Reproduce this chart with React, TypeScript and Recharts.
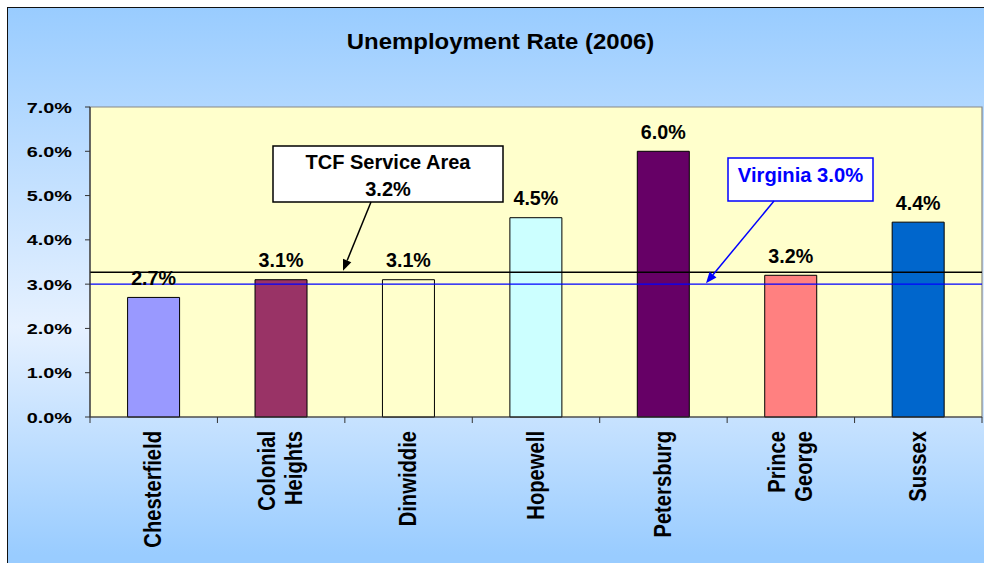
import React from 'react';
import {
  BarChart,
  Bar,
  Cell,
  XAxis,
  YAxis,
  CartesianGrid,
  ReferenceLine,
  ReferenceArea,
  LabelList,
} from 'recharts';

const categories = [
  'Chesterfield',
  'Colonial Heights',
  'Dinwiddie',
  'Hopewell',
  'Petersburg',
  'Prince George',
  'Sussex',
];
const rates = [2.7, 3.1, 3.1, 4.5, 6.0, 3.2, 4.4];
const barColors = ['#9999FF', '#993366', '#FFFFCC', '#CCFFFF', '#660066', '#FF8080', '#0066CC'];
const yTicks = [0, 1, 2, 3, 4, 5, 6, 7];
const tcfRate = 3.27;
const virginiaRate = 3.0;

const data = categories.map((name, i) => ({ name, rate: rates[i] }));

const FONT = '"Liberation Sans", Arial, Helvetica, sans-serif';

// layout
const W = 984;
const H = 563;
const Y_AXIS_W = 90;
const MARGIN = { top: 107, right: 2, bottom: 0, left: 0 };
const X_AXIS_H = 146;
const PLOT_BOTTOM = H - X_AXIS_H;
const BAND = (W - Y_AXIS_W - MARGIN.right) / categories.length;

const YTick = (props: any) => {
  const { x, y, payload } = props;
  return (
    <text
      transform={`translate(${x - 11},${y + 5.5}) scale(1.28,1)`}
      textAnchor="end"
      fontFamily={FONT}
      fontWeight="bold"
      fontSize={15.5}
      fill="#000"
    >
      {Number(payload.value).toFixed(1)}%
    </text>
  );
};

// category label + tick marks on the band edges (excel style)
const CategoryTick = (props: any) => {
  const { x, payload, index } = props;
  const lines = String(payload.value).split(' ');
  const gap = 27;
  const edges = [x - BAND / 2];
  if (index === categories.length - 1) edges.push(x + BAND / 2);
  return (
    <g>
      {edges.map((ex, i) => (
        <line key={'t' + i} x1={ex} x2={ex} y1={PLOT_BOTTOM} y2={PLOT_BOTTOM + 6} stroke="#333" />
      ))}
      {lines.map((line, i) => {
        const cx = x - 1 + (i - (lines.length - 1) / 2) * gap;
        return (
          <text
            key={i}
            transform={`translate(${cx + 8.7},${PLOT_BOTTOM + 14}) scale(1.2,1) rotate(-90)`}
            textAnchor="end"
            fontFamily={FONT}
            fontWeight="bold"
            fontSize={20.2}
            fill="#000"
          >
            {line}
          </text>
        );
      })}
    </g>
  );
};

const Arrow = ({ x1, y1, x2, y2, color }: any) => {
  const ang = Math.atan2(y2 - y1, x2 - x1);
  const len = 11;
  const half = 4.5;
  const bx = x2 - len * Math.cos(ang);
  const by = y2 - len * Math.sin(ang);
  const px = -Math.sin(ang) * half;
  const py = Math.cos(ang) * half;
  return (
    <g>
      <line x1={x1} y1={y1} x2={bx} y2={by} stroke={color} strokeWidth={1.5} />
      <polygon points={`${x2},${y2} ${bx + px},${by + py} ${bx - px},${by - py}`} fill={color} />
    </g>
  );
};

// callout boxes pointing at the reference lines
const TcfCallout = (props: any) => {
  const lineY = props.viewBox ? props.viewBox.y : 272;
  return (
    <g>
      <rect x={273} y={146} width={230} height={56} fill="#fff" stroke="#000" strokeWidth={1.5} />
      <text x={388} y={169} textAnchor="middle" fontFamily={FONT} fontWeight="bold" fontSize={20} fill="#000">
        TCF Service Area
      </text>
      <text x={388} y={196} textAnchor="middle" fontFamily={FONT} fontWeight="bold" fontSize={20} fill="#000">
        3.2%
      </text>
      <Arrow x1={371} y1={202} x2={343} y2={lineY - 1.5} color="#000" />
    </g>
  );
};

const VirginiaCallout = (props: any) => {
  const lineY = props.viewBox ? props.viewBox.y : 283;
  return (
    <g>
      <rect x={728} y={158} width={145} height={43} fill="#fff" stroke="#0000FF" strokeWidth={1.5} />
      <text x={800.5} y={181.5} textAnchor="middle" fontFamily={FONT} fontWeight="bold" fontSize={20.2} fill="#0000FF">
        Virginia 3.0%
      </text>
      <Arrow x1={774} y1={201} x2={706} y2={lineY - 1} color="#0000FF" />
    </g>
  );
};

export default function App() {
  return (
    <div style={{ position: 'absolute', left: 0, top: 0, width: W, height: H, overflow: 'hidden' }}>
      <div
        style={{
          position: 'absolute',
          left: 7,
          top: 7,
          width: 990,
          height: 570,
          border: '1.5px solid #111',
          background: 'linear-gradient(to bottom, #99CCFF 0%, #E6F1FF 56%, #99CCFF 96%)',
        }}
      />
      <svg style={{ position: 'absolute', left: 0, top: 0 }} width={W} height={H}>
        <text
          transform="translate(500.5,49.3) scale(1.12,1)"
          textAnchor="middle"
          fontFamily={FONT}
          fontWeight="bold"
          fontSize={21.4}
          fill="#000"
        >
          Unemployment Rate (2006)
        </text>
      </svg>
      <div style={{ position: 'absolute', left: 0, top: 0 }}>
        <BarChart width={W} height={H} data={data} margin={MARGIN} barCategoryGap="29.5%">
          <CartesianGrid horizontal={false} vertical={false} fill="#FFFFCC" fillOpacity={1} />
          <XAxis
            dataKey="name"
            height={X_AXIS_H}
            axisLine={{ stroke: '#333', strokeWidth: 1.2 }}
            tickLine={false}
            interval={0}
            tick={<CategoryTick />}
          />
          <YAxis
            width={Y_AXIS_W}
            domain={[0, 7]}
            ticks={yTicks}
            tickSize={5}
            tickMargin={2}
            axisLine={{ stroke: '#333', strokeWidth: 1.2 }}
            tickLine={{ stroke: '#333' }}
            tick={<YTick />}
          />
          <Bar dataKey="rate" stroke="#000" strokeWidth={1} isAnimationActive={false}>
            {data.map((d, i) => (
              <Cell key={d.name} fill={barColors[i]} />
            ))}
            <LabelList
              dataKey="rate"
              position="top"
              offset={12.5}
              formatter={(v: any) => `${Number(v).toFixed(1)}%`}
              fill="#000"
              fontFamily={FONT}
              fontWeight="bold"
              fontSize={19.7}
            />
          </Bar>
          <ReferenceArea y1={0} y2={7} fill="none" stroke="#888" strokeWidth={1.2} />
          <ReferenceLine
            y={tcfRate}
            stroke="#000"
            strokeWidth={1.5}
            label={(p: any) => <TcfCallout {...p} />}
          />
          <ReferenceLine
            y={virginiaRate}
            stroke="#0000FF"
            strokeWidth={1.2}
            label={(p: any) => <VirginiaCallout {...p} />}
          />
        </BarChart>
      </div>
    </div>
  );
}
